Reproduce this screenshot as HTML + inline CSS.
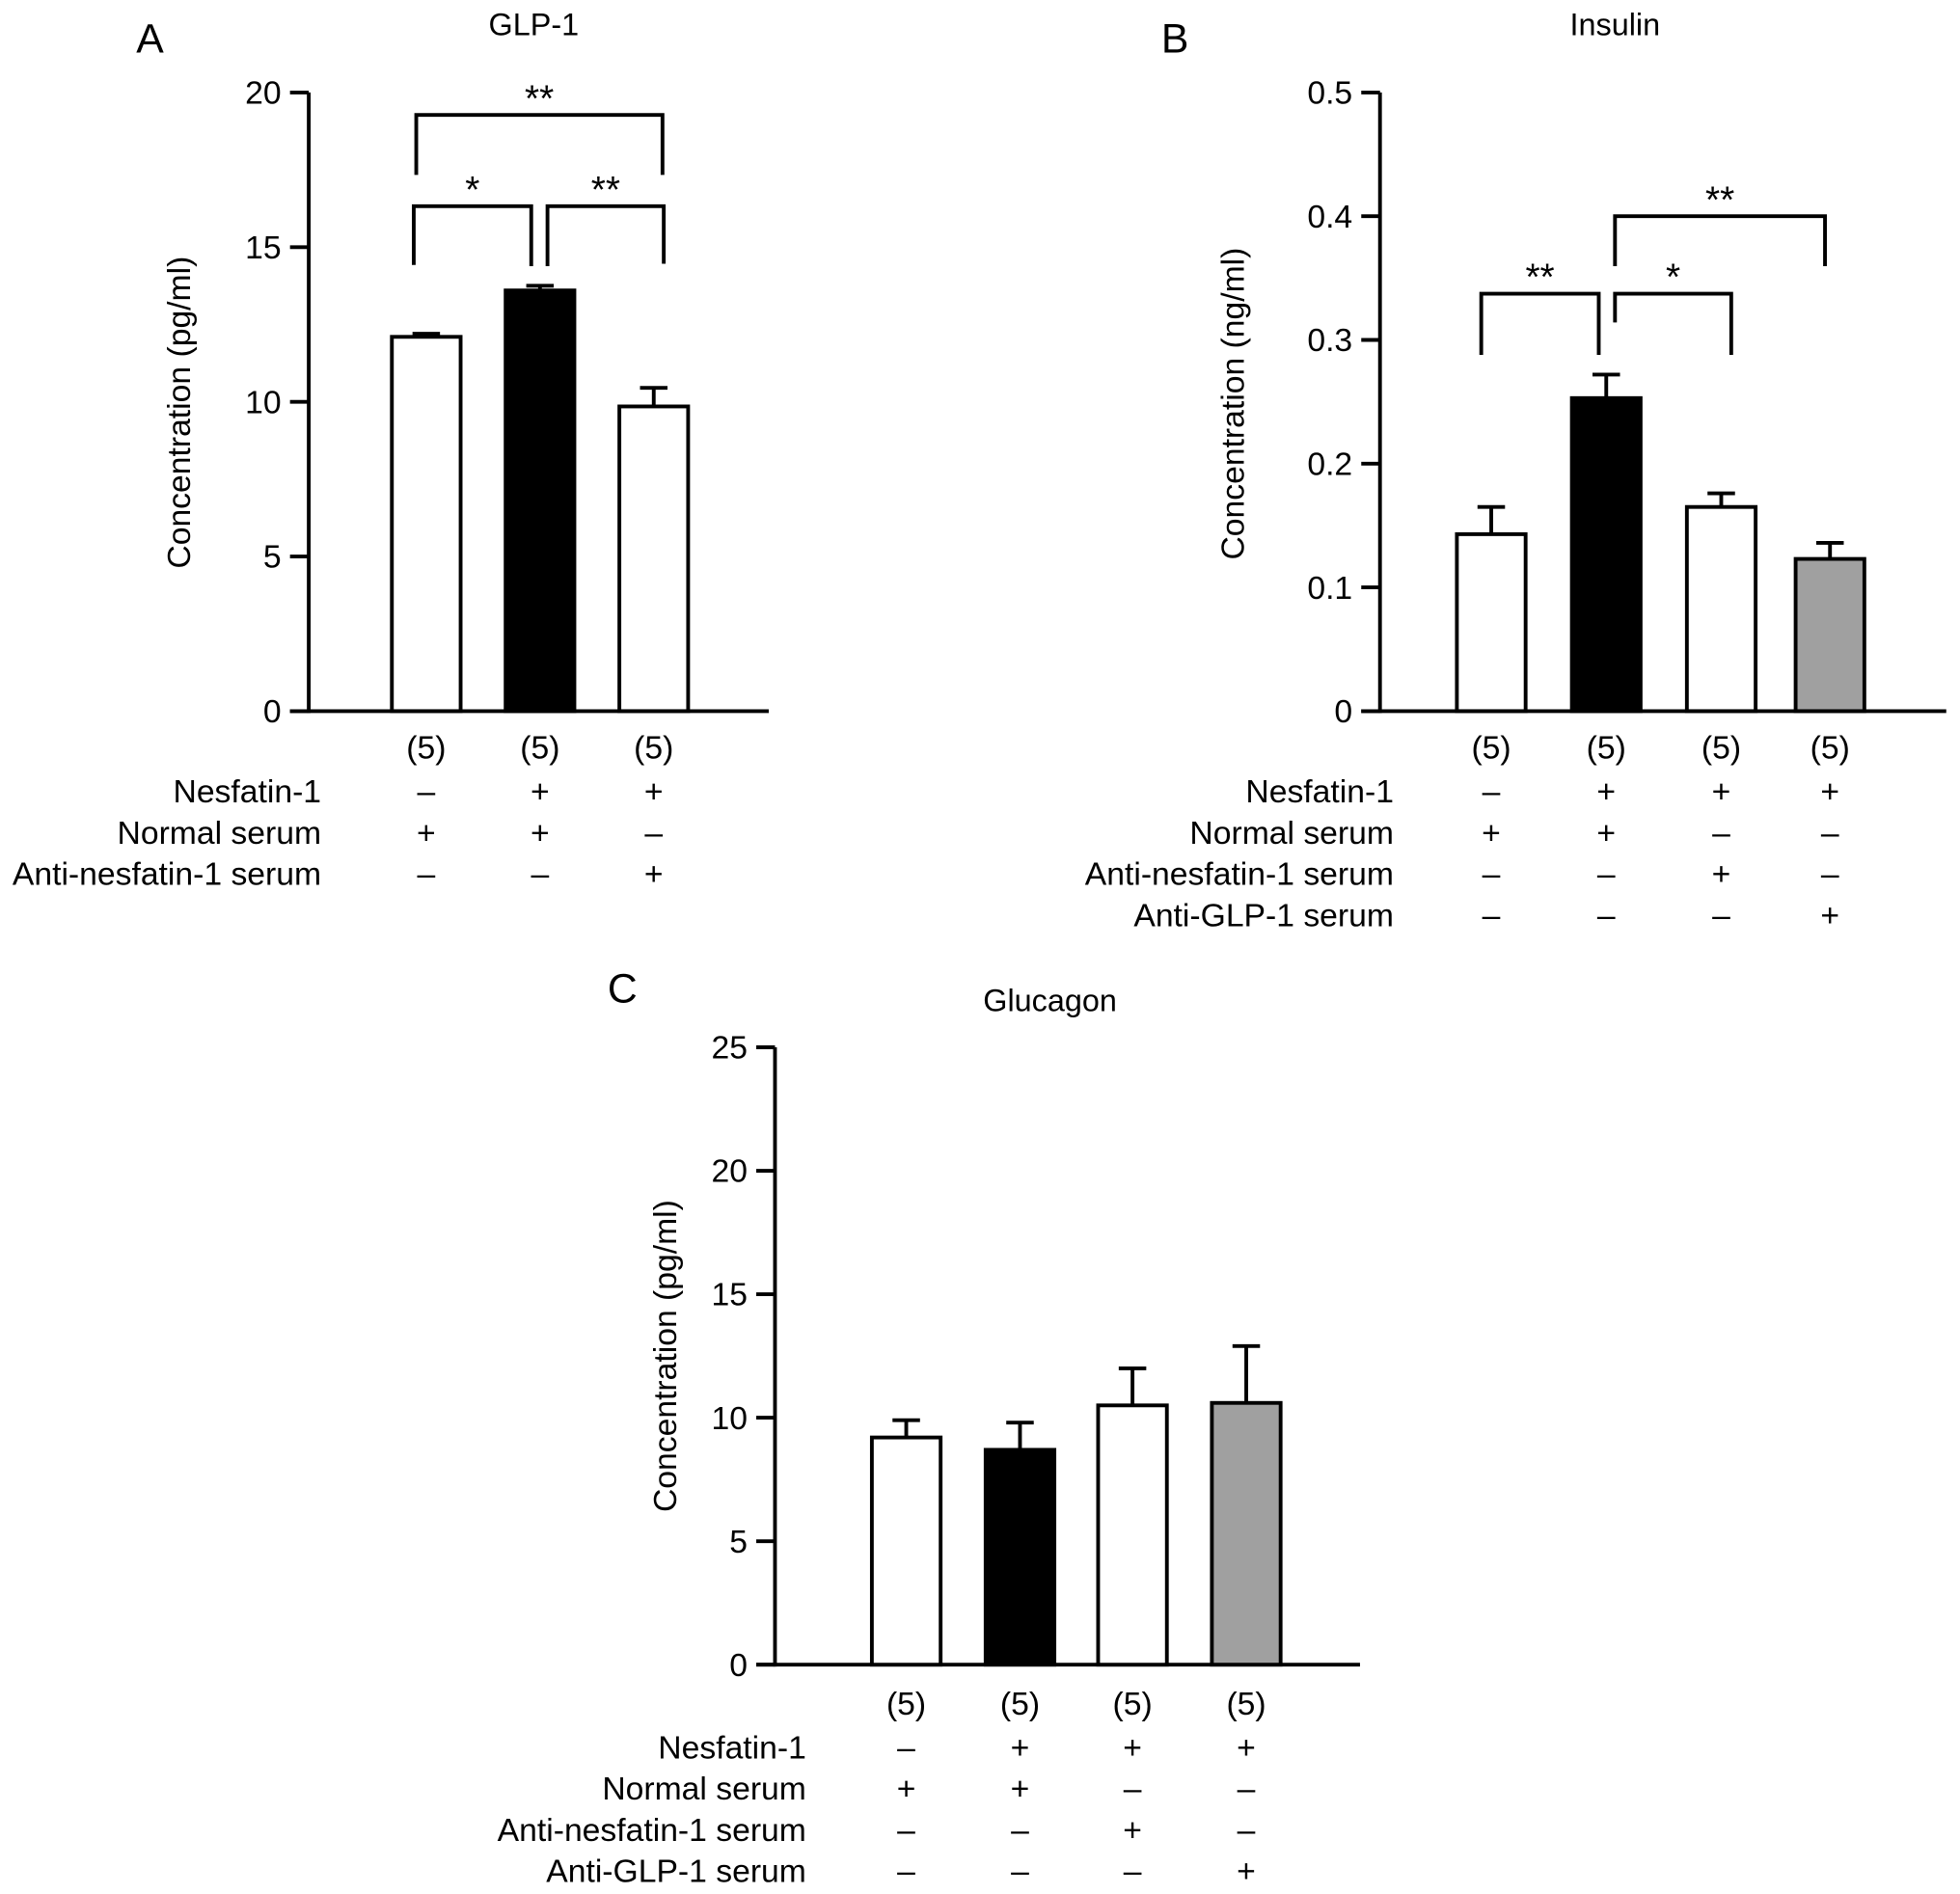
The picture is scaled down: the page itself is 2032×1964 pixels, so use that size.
<!DOCTYPE html>
<html><head><meta charset="utf-8"><style>
html,body{margin:0;padding:0;background:#fff;}
svg{display:block;font-family:"Liberation Sans",Arial,sans-serif;}
</style></head><body>
<svg id="fig" width="2032" height="1964" viewBox="0 0 1568 1515.5" preserveAspectRatio="none" xmlns="http://www.w3.org/2000/svg"></svg>
<script>
// Panel A data
const aCats = ["g1","g2","g3"];
const aVals = [12.1, 13.6, 9.85];
const aErr = [0.1, 0.15, 0.6];
const aTicks = [0,5,10,15,20];
// Panel B data
const bCats = ["g1","g2","g3","g4"];
const bVals = [0.143, 0.253, 0.165, 0.123];
const bErr = [0.022, 0.019, 0.011, 0.013];
const bTicks = [0,0.1,0.2,0.3,0.4,0.5];
const bTickLabels = ["0","0.1","0.2","0.3","0.4","0.5"];
// Panel C data
const cCats = ["g1","g2","g3","g4"];
const cVals = [9.2, 8.7, 10.5, 10.6];
const cErr = [0.7, 1.1, 1.5, 2.3];
const cTicks = [0,5,10,15,20,25];
// Condition tables
const aRows = ["Nesfatin-1","Normal serum","Anti-nesfatin-1 serum"];
const aSigns = [["–","+","+"],["+","+","–"],["–","–","+"]];
const bRows = ["Nesfatin-1","Normal serum","Anti-nesfatin-1 serum","Anti-GLP-1 serum"];
const bSigns = [["–","+","+","+"],["+","+","–","–"],["–","–","+","–"],["–","–","–","+"]];
const fills = ["#fff","#000","#fff","#a0a0a0"];

const svg = document.getElementById('fig');
const NS = "http://www.w3.org/2000/svg";
const FS = 26;
function el(tag, attrs, parent){const e=document.createElementNS(NS,tag);for(const k in attrs)e.setAttribute(k,attrs[k]);(parent||svg).appendChild(e);return e;}
function txt(s, attrs, parent){const e=el('text',attrs,parent);e.textContent=s;return e;}

function panel(p){
  const g = el('g',{});
  
  
  const y = v => p.y0 - (v - 0)/p.max*(p.y0-p.y1);
  let t = txt(p.letter,{x:p.letterX,y:p.letterY,'font-size':33,'text-anchor':'middle'},g);
   
  t = txt(p.title,{x:p.titleX,y:p.titleY,'font-size':25,'text-anchor':'middle'},g);
   
  let l = el('line',{x1:p.ax,y1:p.y1,x2:p.ax,y2:p.y0+1.5,stroke:'#000','stroke-width':3},g);
   
  l = el('line',{x1:p.ax-15,y1:p.y0,x2:p.xEnd,y2:p.y0,stroke:'#000','stroke-width':3},g);
   
  p.ticks.forEach((v,i)=>{
    const tl = el('line',{x1:p.ax-15,y1:y(v),x2:p.ax,y2:y(v),stroke:'#000','stroke-width':3},g);
     
    const tt = txt(p.tickLabels?p.tickLabels[i]:String(v),{x:p.ax-22,y:y(v)+9,'font-size':FS,'text-anchor':'end'},g);
     
  });
  const yl = txt(p.ylabel,{x:0,y:0,'font-size':FS,'text-anchor':'middle',transform:`translate(${p.ylx},${p.yly}) rotate(-90)`},g);
   
  const bw = 55;
  p.vals.forEach((v,i)=>{
    const cx = p.cx[i];
    const top = y(v), et = y(v+p.err[i]);
    const eb = el('line',{x1:cx,y1:top,x2:cx,y2:et,stroke:'#000','stroke-width':3},g);
     
    const ec = el('line',{x1:cx-11,y1:et,x2:cx+11,y2:et,stroke:'#000','stroke-width':3},g);
     
    const r = el('rect',{x:cx-bw/2,y:top,width:bw,height:p.y0-top,fill:fills[i],stroke:'#000','stroke-width':3},g);
     
    const n = txt('(5)',{x:cx,y:p.nY,'font-size':FS,'text-anchor':'middle'},g);
     
  });
  p.rows.forEach((rname,ri)=>{
    const ry = p.rowY + ri*33;
    const rt = txt(rname,{x:p.rowX,y:ry,'font-size':FS,'text-anchor':'end'},g);
     
    p.signs[ri].forEach((s,ci)=>{
      const st = txt(s,{x:p.cx[ci],y:ry,'font-size':FS,'text-anchor':'middle'},g);
       
    });
  });
  (p.brackets||[]).forEach(b=>{
    const pa = el('path',{d:`M${b.x1},${b.l} V${b.y} H${b.x2} V${b.r}`,fill:'none',stroke:'#000','stroke-width':3},g);
     
    const s = txt(b.s,{x:(b.x1+b.x2)/2,y:b.y-3,'font-size':30,'text-anchor':'middle'},g);
     
  });
}

panel({id:'a',letter:'A',letterX:120,letterY:42,title:'GLP-1',titleX:427,titleY:28,
  ax:247,y0:569,y1:74,max:20,xEnd:615,ticks:aTicks,ylabel:'Concentration (pg/ml)',ylx:152,yly:330,
  cats:aCats,vals:aVals,err:aErr,cx:[341,432,523],nY:607,rows:aRows,signs:aSigns,rowX:257,rowY:642,
  brackets:[{x1:333,x2:530,y:92,l:140,r:140,s:'**'},{x1:331,x2:425,y:165,l:212,r:213,s:'*'},{x1:438,x2:531,y:165,l:213,r:211,s:'**'}]});
panel({id:'b',letter:'B',letterX:940,letterY:42,title:'Insulin',titleX:1292,titleY:28,
  ax:1104,y0:569,y1:74,max:0.5,xEnd:1557,ticks:bTicks,tickLabels:bTickLabels,ylabel:'Concentration (ng/ml)',ylx:995,yly:323,
  cats:bCats,vals:bVals,err:bErr,cx:[1193,1285,1377,1464],nY:607,rows:bRows,signs:bSigns,rowX:1115,rowY:642,
  brackets:[{x1:1185,x2:1279,y:235,l:284,r:284,s:'**'},{x1:1292,x2:1385,y:235,l:258,r:284,s:'*'},{x1:1292,x2:1460,y:173,l:213,r:213,s:'**'}]});
panel({id:'c',letter:'C',letterX:498,letterY:802,title:'Glucagon',titleX:840,titleY:809,
  ax:620,y0:1332,y1:838,max:25,xEnd:1088,ticks:cTicks,ylabel:'Concentration (pg/ml)',ylx:541,yly:1085,
  cats:cCats,vals:cVals,err:cErr,cx:[725,816,906,997],nY:1372,rows:bRows,signs:bSigns,rowX:645,rowY:1407});
</script>
</body></html>
